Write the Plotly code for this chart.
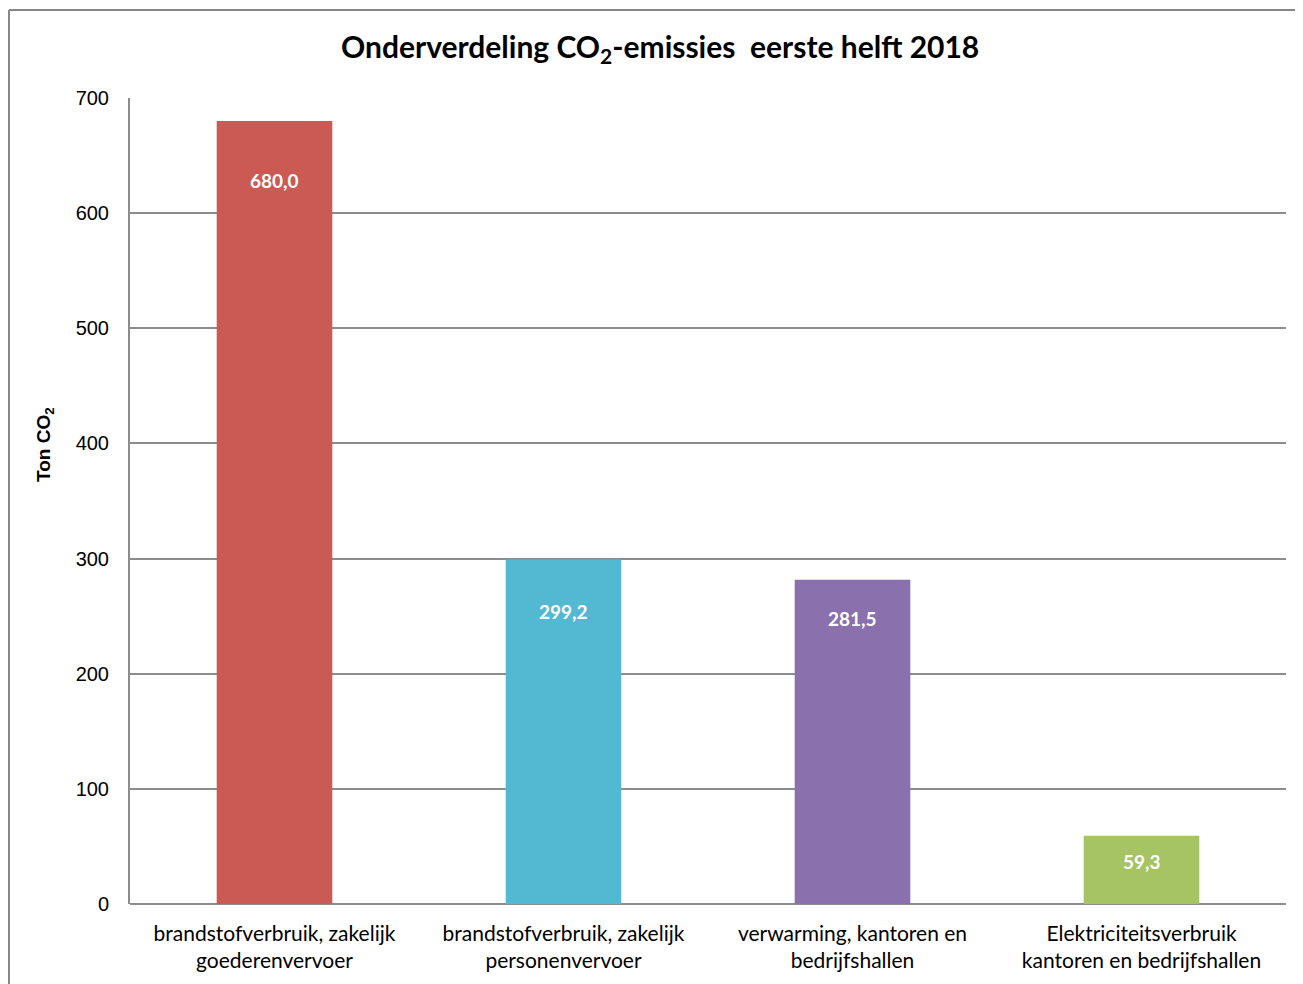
import plotly.graph_objects as go

# ---- data ----
categories = [
    "brandstofverbruik, zakelijk<br>goederenvervoer",
    "brandstofverbruik, zakelijk<br>personenvervoer",
    "verwarming, kantoren en<br>bedrijfshallen",
    "Elektriciteitsverbruik<br>kantoren en bedrijfshallen",
]
values = [680.0, 299.2, 281.5, 59.3]
value_labels = ["680,0", "299,2", "281,5", "59,3"]
bar_colors = ["#CB5A55", "#53B8D2", "#8A70AC", "#A6C464"]
y_ticks = [0, 100, 200, 300, 400, 500, 600, 700]

# ---- layout geometry (pixels, page has an 8px body margin) ----
OFF = 8
W, H = 1303 - OFF, 984 - OFF
L, R, T, B = 130 - OFF, 17, 98 - OFF, 80
pw, ph = W - L - R, H - T - B

def px(x):
    return (x - OFF - L) / pw

def py(y):
    return (H - B - (y - OFF)) / ph

label_offsets = [-59, -52, -39, -26]

BODY = "Lato, 'Liberation Sans', sans-serif"
ARIAL = "'Liberation Sans', Arial, sans-serif"
GRID = "#8C8C8C"

fig = go.Figure()
fig.add_trace(go.Bar(
    x=categories,
    y=values,
    marker=dict(color=bar_colors, line=dict(width=0)),
    hoverinfo="skip",
))

annotations = []
for c, v, t, off in zip(categories, values, value_labels, label_offsets):
    annotations.append(dict(
        x=c, y=v, xref="x", yref="y", text=t, showarrow=False,
        yshift=off, font=dict(family=BODY, size=19, color="white", weight="bold"),
    ))

annotations.append(dict(
    x=px(660), y=py(48), xref="paper", yref="paper",
    text="Onderverdeling CO<sub>2</sub>-emissies  eerste helft 2018",
    showarrow=False, xanchor="center", yanchor="middle",
    font=dict(family=BODY, size=30, color="black", weight="bold"),
))
annotations.append(dict(
    x=px(45), y=py(445), xref="paper", yref="paper",
    text="Ton CO<sub>2</sub>", textangle=-90, showarrow=False,
    xanchor="center", yanchor="middle",
    font=dict(family=ARIAL, size=19, color="black", weight="bold"),
))

shapes = [
    dict(type="line", xref="paper", yref="paper",
         x0=px(9), x1=px(9), y0=py(10), y1=py(1000),
         line=dict(color="#868686", width=2)),
    dict(type="line", xref="paper", yref="paper",
         x0=px(9), x1=px(1320), y0=py(10), y1=py(10),
         line=dict(color="#868686", width=2)),
]

fig.update_layout(
    width=W, height=H,
    margin=dict(l=L, r=R, t=T, b=B),
    paper_bgcolor="white", plot_bgcolor="white",
    showlegend=False,
    bargap=0.6,
    annotations=annotations,
    shapes=shapes,
    xaxis=dict(
        showgrid=False, showline=False, zeroline=False, ticks="",
        tickfont=dict(family=BODY, size=21, color="black"),
        ticklabelstandoff=15,
    ),
    yaxis=dict(
        range=[0, 700], tickvals=y_ticks,
        showgrid=True, gridcolor=GRID, gridwidth=2,
        showline=True, linecolor=GRID, linewidth=2,
        zeroline=True, zerolinecolor=GRID, zerolinewidth=2,
        ticks="", ticklabelstandoff=15,
        tickfont=dict(family=ARIAL, size=20, color="black"),
    ),
)

fig.write_html("out.html")
